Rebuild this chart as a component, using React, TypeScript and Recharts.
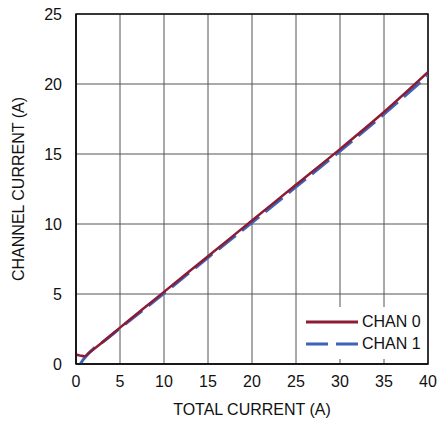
import React from 'react';
import { LineChart, Line, XAxis, YAxis, CartesianGrid, Label, ReferenceArea } from 'recharts';

const chan0X = [0, 0.5, 1, 1.5, 2, 3, 5, 10, 15, 20, 25, 30, 35, 40];
const chan0Y = [0.68, 0.6, 0.55, 0.8, 1.05, 1.55, 2.6, 5.15, 7.7, 10.25, 12.8, 15.35, 18.0, 20.85];
const chan1X = [0.5, 0.8, 1, 1.5, 2, 3, 5, 10, 15, 20, 25, 30, 35, 40];
const chan1Y = [0, 0.3, 0.45, 0.8, 1.1, 1.55, 2.55, 5.05, 7.6, 10.1, 12.65, 15.2, 17.85, 20.6];
const xTicks = [0, 5, 10, 15, 20, 25, 30, 35, 40];
const yTicks = [0, 5, 10, 15, 20, 25];
const seriesNames = ['CHAN 0', 'CHAN 1'];

const chan0 = chan0X.map((x, i) => ({ x, y: chan0Y[i] }));
const chan1 = chan1X.map((x, i) => ({ x, y: chan1Y[i] }));

const FONT = '"Liberation Sans Narrow", "Arial Narrow", "Liberation Sans", sans-serif';
const RED = '#8c1b34';
const BLUE = '#3c63b8';

const LegendBox = () => (
  <div
    style={{
      position: 'absolute',
      left: 300,
      top: 307,
      width: 127,
      height: 52,
      boxSizing: 'border-box',
      background: '#fff',
      padding: '4px 0 0 6px',
      fontFamily: FONT,
      fontSize: 16,
      color: '#111',
    }}
  >
    <div style={{ display: 'flex', alignItems: 'center', height: 22 }}>
      <svg width={52} height={6}>
        <line x1={0} y1={3} x2={52} y2={3} stroke={RED} strokeWidth={3} />
      </svg>
      <span style={{ marginLeft: 4 }}>{seriesNames[0]}</span>
    </div>
    <div style={{ display: 'flex', alignItems: 'center', height: 22 }}>
      <svg width={52} height={6}>
        <line x1={0} y1={3} x2={52} y2={3} stroke={BLUE} strokeWidth={3} strokeDasharray="22 8" />
      </svg>
      <span style={{ marginLeft: 4 }}>{seriesNames[1]}</span>
    </div>
  </div>
);

export default function App() {
  return (
    <div style={{ position: 'absolute', left: 0, top: 0, width: 437, height: 421, background: '#fff' }}>
      <LineChart width={437} height={421} margin={{ top: 14, right: 9, left: 0, bottom: 0 }}>
        <CartesianGrid stroke="#555" strokeWidth={1} />
        <XAxis
          type="number"
          dataKey="x"
          domain={[0, 40]}
          ticks={xTicks}
          height={57}
          tickLine={false}
          axisLine={{ stroke: '#111', strokeWidth: 1.5 }}
          tickMargin={6}
          tick={{ fill: '#111', fontSize: 16, fontFamily: FONT }}
          allowDataOverflow
        >
          <Label
            value="TOTAL CURRENT (A)"
            position="insideBottom"
            offset={6}
            style={{ fill: '#111', fontSize: 16, fontFamily: FONT }}
          />
        </XAxis>
        <YAxis
          type="number"
          domain={[0, 25]}
          ticks={yTicks}
          width={76}
          tickLine={false}
          axisLine={{ stroke: '#111', strokeWidth: 1.5 }}
          tickMargin={8}
          tick={{ fill: '#111', fontSize: 16, fontFamily: FONT }}
          allowDataOverflow
        >
          <Label
            value="CHANNEL CURRENT (A)"
            angle={-90}
            position="center"
            dx={-20}
            style={{ fill: '#111', fontSize: 16, fontFamily: FONT, textAnchor: 'middle' }}
          />
        </YAxis>
        <ReferenceArea x1={0} x2={40} y1={0} y2={25} fill="none" stroke="#111" strokeWidth={1.5} ifOverflow="visible" />
        <Line
          data={chan1}
          dataKey="y"
          name={seriesNames[1]}
          stroke={BLUE}
          strokeWidth={3}
          strokeDasharray="22 8"
          dot={false}
          type="monotone"
          isAnimationActive={false}
        />
        <Line
          data={chan0}
          dataKey="y"
          name={seriesNames[0]}
          stroke={RED}
          strokeWidth={2.5}
          dot={false}
          type="monotone"
          isAnimationActive={false}
        />
      </LineChart>
      <LegendBox />
    </div>
  );
}
